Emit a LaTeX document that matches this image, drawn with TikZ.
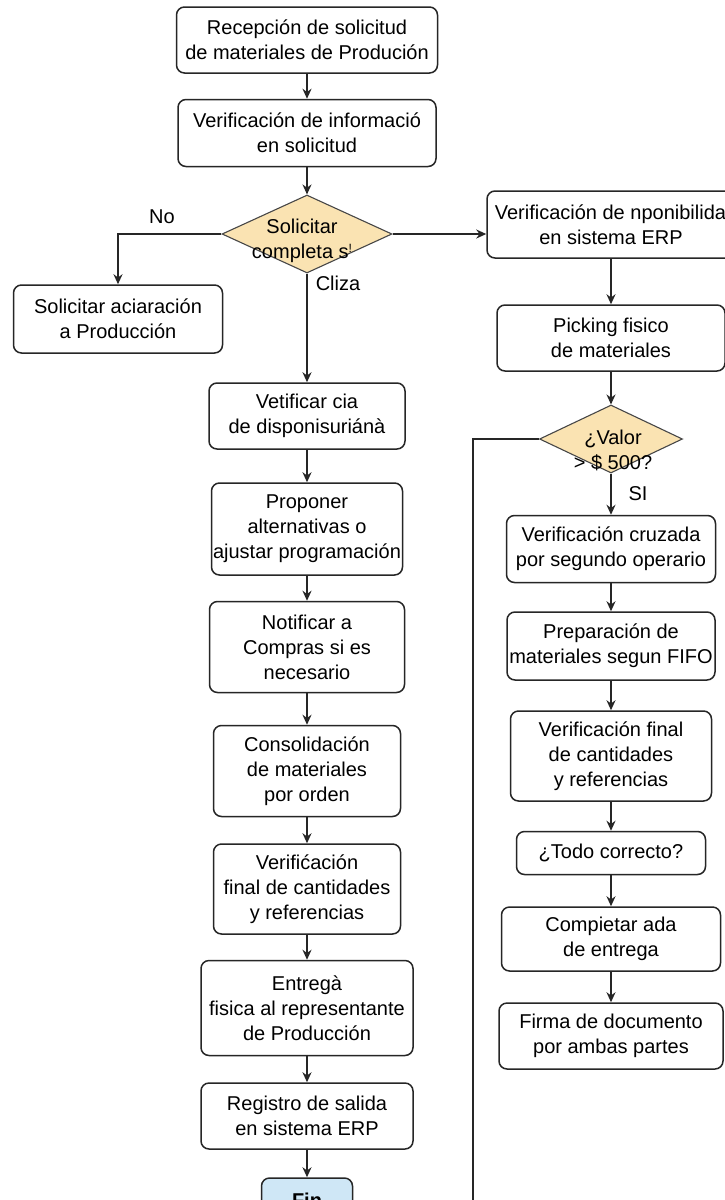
\documentclass[tikz,border=0pt]{standalone}
\usepackage{fontspec}
\setmainfont{Liberation Sans}
\usetikzlibrary{shapes.geometric,arrows.meta}
\definecolor{ln}{HTML}{262626}
\definecolor{dfill}{HTML}{FAE3B2}
\definecolor{finfill}{HTML}{CFE7F6}
\newcommand\fsz{\fontsize{20}{25}\selectfont}
\tikzset{
 box/.style={draw=ln, line width=1.5pt, rounded corners=8pt, fill=white, align=center, inner sep=1pt, font=\fsz},
 dec/.style={diamond, draw=ln!85, line width=1.1pt, fill=dfill, inner sep=0pt},
 lbl/.style={font=\fsz, inner sep=0pt, align=center},
 arr/.style={draw=ln, line width=1.6pt, -{Stealth[length=10pt,width=9pt]}},
 plain/.style={draw=ln, line width=1.6pt},
}
\begin{document}
\begin{tikzpicture}[x=1pt,y=-1pt]
\fill[white] (0,0) rectangle (725,1200);
\useasboundingbox (0,0) rectangle (725,1200);
% left / main column
\node[box, minimum width=261pt, minimum height=66pt] (r1) at (307,40) {Recepción de solicitud\\de materiales de Produción};
\node[box, minimum width=258pt, minimum height=67pt] (r2) at (307,133) {Verificación de informació\\en solicitud};
\node[dec, minimum width=170pt, minimum height=78pt] (d1) at (307,234) {};
\node[lbl] (d1t) at (302,241) {Solicitar\\completa s\raisebox{.55ex}{\fontsize{12}{12}\selectfont !}};
\node[box, minimum width=209pt, minimum height=68pt] (acl) at (118,319) {Solicitar aciaración\\a Producción};
\node[box, minimum width=196pt, minimum height=66pt] (vet) at (307,416) {Vetificar cia\\de disponisuriánà};
\node[box, minimum width=191pt, minimum height=92pt] (prop) at (307,529) {Proponer\\alternativas o\\ajustar programación};
\node[box, minimum width=195pt, minimum height=91pt] (notif) at (307,647) {Notificar a\\Compras si es\\necesario};
\node[box, minimum width=187pt, minimum height=91pt] (cons) at (307,771) {Consolidación\\de materiales\\por orden};
\node[box, minimum width=187pt, minimum height=90pt] (verf) at (307,889) {Verifićación\\final de cantidades\\y referencias};
\node[box, minimum width=212pt, minimum height=95pt] (ent) at (307,1008) {Entregà\\fisica al representante\\de Producción};
\node[box, minimum width=212pt, minimum height=66pt] (reg) at (307,1116) {Registro de salida\\en sistema ERP};
\node[box, fill=finfill, minimum width=91pt, minimum height=44pt, font=\fsz\bfseries] (fin) at (307,1200) {Fin};
% right column
\node[box, minimum width=258pt, minimum height=67pt] (erp) at (616,224.5) {Verificación de nponibilidad\\\hspace*{-10pt}en sistema ERP};
\node[box, minimum width=228pt, minimum height=66pt] (pick) at (611,338) {Picking fisico\\de materiales};
\node[dec, minimum width=143pt, minimum height=68pt] (d2) at (611,439) {};
\node[lbl] (d2t) at (613,450) {¿Valor\\> \$ 500?};
\node[box, minimum width=209pt, minimum height=67pt] (cruz) at (611,549) {Verificación cruzada\\por segundo operario};
\node[box, minimum width=208pt, minimum height=68pt] (prep) at (611,646) {Preparación de\\materiales segun FIFO};
\node[box, minimum width=201pt, minimum height=90pt] (vfin) at (611,756) {Verificación final\\de cantidades\\y referencias};
\node[box, minimum width=189pt, minimum height=43pt] (todo) at (611,853) {¿Todo correcto?};
\node[box, minimum width=219pt, minimum height=64pt] (comp) at (611,939) {Compietar ada\\de entrega};
\node[box, minimum width=224pt, minimum height=66pt] (firma) at (611,1036) {Firma de documento\\por ambas partes};
% labels
\node[lbl] (lno) at (162,217) {No};
\node[lbl] (lcl) at (338,283) {Cliza};
\node[lbl] (lsi) at (638,494) {SI};
\coordinate (lend) at (473,1240);
% connectors
\draw[arr] (r1) -- (r2);
\draw[arr] (r2) -- (d1);
\draw[arr] (d1.west) -| (acl.north);
\draw[arr] (d1.east) -- (d1.east -| erp.west);
\draw[arr] (d1) -- (vet);
\draw[arr] (vet) -- (prop);
\draw[arr] (prop) -- (notif);
\draw[arr] (notif) -- (cons);
\draw[arr] (cons) -- (verf);
\draw[arr] (verf) -- (ent);
\draw[arr] (ent) -- (reg);
\draw[arr] (reg) -- (fin);
\draw[arr] (erp.south -| pick) -- (pick);
\draw[arr] (pick) -- (d2);
\draw[plain] (d2.west) -| (lend);
\draw[arr] (d2) -- (cruz);
\draw[arr] (cruz) -- (prep);
\draw[arr] (prep) -- (vfin);
\draw[arr] (vfin) -- (todo);
\draw[arr] (todo) -- (comp);
\draw[arr] (comp) -- (firma);
\end{tikzpicture}
\end{document}
